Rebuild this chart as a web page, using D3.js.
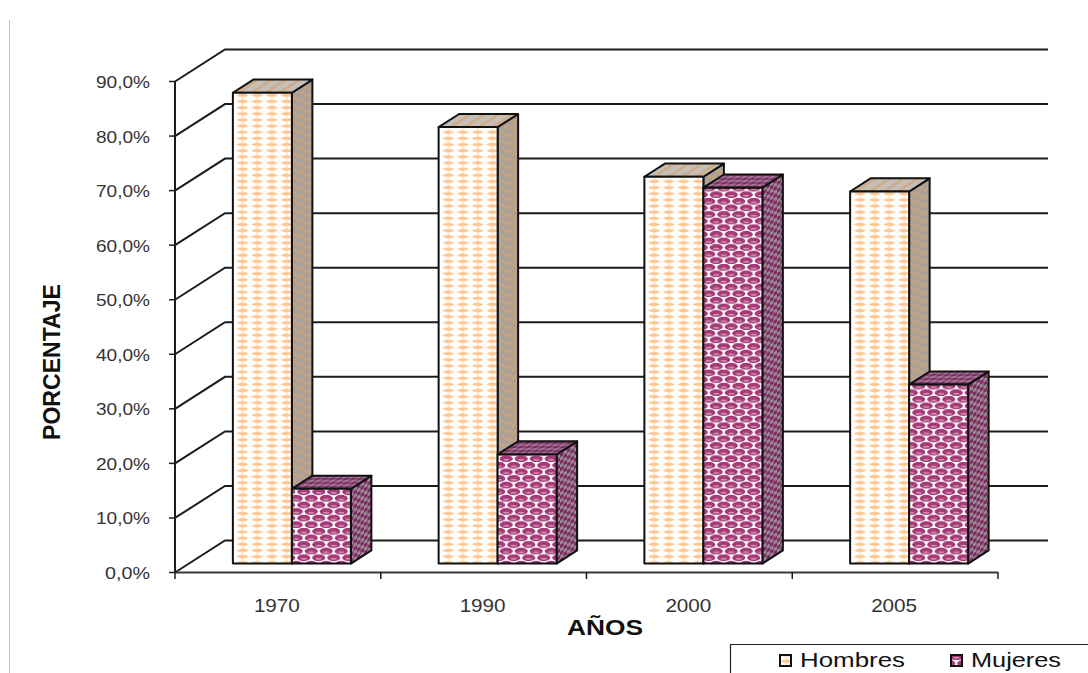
<!DOCTYPE html>
<html>
<head>
<meta charset="utf-8">
<script src="https://cdn.jsdelivr.net/npm/d3@7"></script>
<style>
html,body{margin:0;padding:0;background:#fff;overflow:hidden}
svg{display:block}
text{font-family:"Liberation Sans",Arial,sans-serif}
</style>
</head>
<body>
<svg id="c" width="1088" height="673"></svg>
<script>
const years = ["1970","1990","2000","2005"];
const seriesNames = ["Hombres","Mujeres"];
const hombres = [86.3,80.0,70.9,68.2];
const mujeres = [13.7,20.0,68.9,32.8];
const tickValues = [0,10,20,30,40,50,60,70,80,90];
const tickLabels = ["0,0%","10,0%","20,0%","30,0%","40,0%","50,0%","60,0%","70,0%","80,0%","90,0%"];

const svg = d3.select("#c");
const x = d3.scaleBand().domain(years).range([175,998]);
const y = d3.scaleLinear().domain([0,90]).range([572.5,81.5]);
const inner = d3.scaleBand().domain(seriesNames).range([0,x.bandwidth()]).paddingInner(0).paddingOuter(0.7437);
const depthX = d3.scaleLinear().domain([0,1]).range([0,50]);
const depthY = d3.scaleLinear().domain([0,1]).range([0,-32]);
const barNear = 0.28, barFar = 0.69;
const ink = "#1c1c1c";

const defs = svg.append("defs");
function makePattern(id, w, h, bg, draw, tf){
  const p = defs.append("pattern").attr("id",id).attr("patternUnits","userSpaceOnUse")
    .attr("width",w).attr("height",h);
  if(tf) p.attr("patternTransform",tf);
  p.append("rect").attr("width",w).attr("height",h).attr("fill",bg);
  draw(p);
}
const lozenge = (p,cx,cy,rx,ry,c)=>p.append("path")
  .attr("d",`M${cx-rx},${cy}Q${cx},${cy-ry*1.15} ${cx+rx},${cy}Q${cx},${cy+ry*1.15} ${cx-rx},${cy}Z`).attr("fill",c);

makePattern("hFront",14.7,6.15,"#fff",p=>{
  p.append("rect").attr("x",6.6).attr("y",0).attr("width",1.5).attr("height",6.15).attr("fill","#ffe6cc");
  lozenge(p,7.35,3.07,6.2,3.1,"#ffc690");
});
makePattern("hSide",8,8,"#a9a199",p=>{
  p.append("rect").attr("width",4).attr("height",4).attr("fill","#c0a284");
  p.append("rect").attr("x",4).attr("y",4).attr("width",4).attr("height",4).attr("fill","#c0a284");
},"skewY(-32.6)");
makePattern("hTop",14,14,"#c6bfb8",p=>{
  p.append("rect").attr("width",5).attr("height",14).attr("fill","#cfad8a");
},"skewX(-57)");

function oval(p,cx,cy){
  p.append("ellipse").attr("cx",cx).attr("cy",cy).attr("rx",6.6).attr("ry",3.5).attr("fill","#a63a78");
  p.append("ellipse").attr("cx",cx).attr("cy",cy+1.2).attr("rx",3.2).attr("ry",1).attr("fill","#cf8fb4");
}
makePattern("mFront",15,13.2,"#fff",p=>{
  oval(p,3.75,3.3); oval(p,11.25,9.9);
  oval(p,18.75,3.3); oval(p,-3.75,9.9);
});
makePattern("mSide",7,7,"#9a8894",p=>{
  p.append("rect").attr("width",3.5).attr("height",3.5).attr("fill","#7c2a60");
  p.append("rect").attr("x",3.5).attr("y",3.5).attr("width",3.5).attr("height",3.5).attr("fill","#7c2a60");
},"skewY(-32.6)");
makePattern("mTop",7,4,"#8f5079",p=>{
  p.append("rect").attr("width",3.5).attr("height",2).attr("fill","#a87497");
  p.append("rect").attr("x",3.5).attr("y",2).attr("width",3.5).attr("height",2).attr("fill","#74305e");
},"skewX(-57)");

// page edge line
svg.append("line").attr("x1",9.5).attr("x2",9.5).attr("y1",20).attr("y2",673).attr("stroke","#c4c4c4");

// wall gridlines + floor diagonals
const grid = svg.append("g").attr("fill","none").attr("stroke",ink).attr("stroke-width",2);
tickValues.forEach(v=>{
  const yy = y(v);
  grid.append("path").attr("d",d3.line()([
    [175,yy],[175+depthX(1),yy+depthY(1)],[1048,yy+depthY(1)]
  ]));
});

// axes
const axis = svg.append("g");
axis.append("line").attr("x1",175).attr("x2",175).attr("y1",y(90)).attr("y2",y(0)).attr("stroke",ink).attr("stroke-width",2);
axis.append("line").attr("x1",175).attr("x2",998).attr("y1",572.5).attr("y2",572.5).attr("stroke","#3a3a3a").attr("stroke-width",2);
tickValues.forEach((v,i)=>{
  axis.append("line").attr("x1",169).attr("x2",175).attr("y1",y(v)).attr("y2",y(v)).attr("stroke",ink).attr("stroke-width",1.5);
  axis.append("text").attr("x",150).attr("y",y(v)+6.5).attr("text-anchor","end")
    .attr("font-size",16.5).attr("fill","#333")
    .attr("textLength",v===0?45:54).attr("lengthAdjust","spacingAndGlyphs").text(tickLabels[i]);
});
[...years.map(d=>x(d)),998].forEach(px=>{
  axis.append("line").attr("x1",px).attr("x2",px).attr("y1",572).attr("y2",579).attr("stroke",ink).attr("stroke-width",1.5);
});
years.forEach(d=>{
  axis.append("text").attr("x",x(d)+x.bandwidth()/2-1).attr("y",612).attr("text-anchor","middle")
    .attr("font-size",18).attr("fill","#333")
    .attr("textLength",46).attr("lengthAdjust","spacingAndGlyphs").text(d);
});

// bars
const bars = svg.append("g");
const faceStroke = {stroke:"#111","stroke-width":2,"stroke-linejoin":"round"};
function drawBar(year,name,val,fills){
  const x0 = x(year)+inner(name)+depthX(barNear);
  const x1 = x0+inner.bandwidth();
  const base = y(0)+depthY(barNear);
  const top = y(val)+depthY(barNear);
  const dx = depthX(barFar-barNear), dy = depthY(barFar-barNear);
  const g = bars.append("g").attr("stroke",faceStroke.stroke).attr("stroke-width",faceStroke["stroke-width"]).attr("stroke-linejoin","round");
  g.append("path").attr("d",d3.line()([[x1,base],[x1+dx,base+dy],[x1+dx,top+dy],[x1,top]])+"Z").attr("fill",`url(#${fills[1]})`);
  g.append("path").attr("d",d3.line()([[x0,top],[x0+dx,top+dy],[x1+dx,top+dy],[x1,top]])+"Z").attr("fill",`url(#${fills[2]})`);
  g.append("rect").attr("x",x0).attr("y",top).attr("width",x1-x0).attr("height",base-top).attr("fill",`url(#${fills[0]})`);
}
const hFills = ["hFront","hSide","hTop"], mFills = ["mFront","mSide","mTop"];
years.forEach((yr,i)=>{
  drawBar(yr,seriesNames[0],hombres[i],hFills);
  drawBar(yr,seriesNames[1],mujeres[i],mFills);
});

// titles
svg.append("text").attr("x",605).attr("y",635).attr("text-anchor","middle").attr("font-size",22).attr("font-weight","bold").attr("fill","#111")
  .attr("textLength",76).attr("lengthAdjust","spacingAndGlyphs").text("AÑOS");
svg.append("text").attr("transform","translate(60,362) rotate(-90)").attr("text-anchor","middle").attr("font-size",23).attr("font-weight","bold").attr("fill","#111")
  .attr("textLength",156).attr("lengthAdjust","spacingAndGlyphs").text("PORCENTAJE");

// legend
const legend = svg.append("g");
legend.append("path").attr("d","M730.5,673V644.5H1088").attr("fill","none").attr("stroke","#222").attr("stroke-width",1.2);
const legendX = [779,950], legendW = [105,90];
seriesNames.forEach((s,i)=>{
  legend.append("rect").attr("x",legendX[i]+1).attr("y",655).attr("width",11).attr("height",11)
    .attr("fill",i===0?"url(#hFront)":"url(#mFront)").attr("stroke","#111").attr("stroke-width",2);
  legend.append("text").attr("x",legendX[i]+21).attr("y",667).attr("font-size",21).attr("fill","#111")
    .attr("textLength",legendW[i]).attr("lengthAdjust","spacingAndGlyphs").text(s);
});
</script>
</body>
</html>
